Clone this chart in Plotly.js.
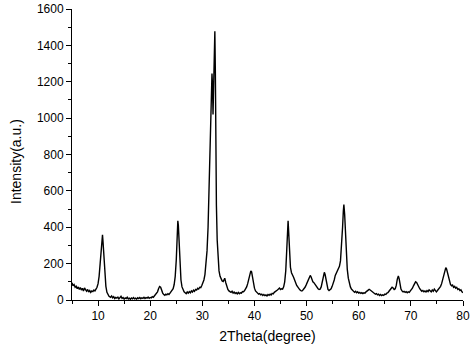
<!DOCTYPE html>
<html>
<head>
<meta charset="utf-8">
<script src="https://cdn.plot.ly/plotly-3.0.1.min.js"></script>
<style>html,body{margin:0;padding:0;background:#fff;}#chart{width:474px;height:350px;}</style>
</head>
<body>
<div id="chart"></div>
<script>
// 2Theta (degree) positions
const twoTheta = [
5.0,5.2,5.4,5.6,5.8,6.0,6.2,6.4,6.6,6.8,7.0,7.2,7.4,7.6,7.8,8.0,8.2,8.4,8.6,8.8,9.0,9.2,9.4,9.6,9.8,10.0,10.2,10.4,10.6,10.75,10.85,10.95,11.1,11.3,11.5,11.7,11.9,12.1,
12.4,12.6,12.8,13.0,13.2,13.4,13.6,13.8,14.0,14.2,14.4,14.6,14.8,15.0,15.2,15.4,15.6,15.8,16.0,16.2,16.4,16.6,16.8,17.0,17.2,17.4,17.6,17.8,18.0,18.2,18.4,18.6,18.8,19.0,19.2,19.4,19.6,19.8,20.0,20.2,20.4,20.6,20.8,21.0,21.2,21.4,21.6,21.8,22.0,22.2,22.4,22.6,22.8,23.0,23.2,23.4,23.6,23.8,24.0,24.2,24.4,24.6,24.8,25.0,25.15,25.3,25.4,25.55,25.7,25.9,26.1,26.3,26.5,26.7,26.9,27.1,27.3,27.5,27.7,27.9,28.1,28.3,28.5,28.7,28.9,29.1,29.3,29.5,29.7,29.9,30.1,30.3,30.5,30.7,30.9,31.1,31.3,31.5,31.7,31.85,31.95,32.05,32.15,32.3,32.4,32.5,32.6,32.7,32.85,33.0,33.2,33.4,33.6,33.8,34.0,34.15,34.3,34.5,34.7,34.9,35.1,35.3,35.5,35.7,35.9,36.1,36.3,36.5,36.7,36.9,37.1,37.3,37.5,37.7,37.9,38.1,38.3,38.5,38.7,38.9,39.1,39.3,39.45,39.6,39.8,40.0,40.2,40.4,40.6,40.8,41.0,41.2,41.4,41.6,41.8,42.0,42.2,42.4,42.6,42.8,43.0,43.2,43.4,43.6,43.8,44.0,44.2,44.4,44.6,44.8,45.0,45.2,45.4,45.6,45.8,46.0,46.2,46.35,46.45,46.55,46.7,46.9,47.1,47.3,47.5,47.7,47.9,48.1,48.3,48.5,48.7,48.9,49.1,49.3,49.5,49.7,49.9,50.1,50.3,50.5,50.7,50.85,51.0,51.2,51.4,51.6,51.8,52.0,52.2,52.4,52.6,52.8,53.0,53.2,53.4,53.55,53.7,53.9,54.1,54.3,54.5,54.7,54.9,55.1,55.3,55.5,55.7,55.9,56.1,56.3,56.5,56.7,56.9,57.05,57.15,57.3,57.45,57.6,57.8,58.0,58.2,58.4,58.6,58.8,59.0,59.2,59.4,59.6,59.8,60.0,60.2,60.4,60.6,60.8,61.0,61.2,61.4,61.6,61.8,62.0,62.2,62.4,62.6,62.8,63.0,63.2,63.4,63.6,63.8,64.0,64.2,64.4,64.6,64.8,65.0,65.2,65.4,65.6,65.8,66.0,66.2,66.4,66.6,66.8,67.0,67.2,67.4,67.6,67.75,67.9,68.1,68.3,68.5,68.7,68.9,69.1,69.3,69.5,69.7,69.9,70.1,70.3,70.5,70.7,70.9,71.1,71.3,71.5,71.7,71.9,72.1,72.3,72.5,72.7,72.9,73.1,73.3,73.5,73.7,73.9,74.1,74.3,74.5,74.7,74.9,75.1,75.3,75.5,75.7,75.9,76.1,76.3,76.5,76.7,76.85,77.0,77.2,77.4,77.6,77.8,78.0,78.2,78.4,78.6,78.8,79.0,79.2,79.4,79.6,79.8,80.0
];
// Intensity (a.u.) values
const intensity = [
95,78,85,70,76,62,72,58,68,55,64,50,66,52,48,58,44,52,42,50,46,55,50,60,70,90,130,200,290,345,358,320,240,140,75,42,28,20,
15,22,12,18,8,14,10,16,6,12,20,9,14,5,12,8,15,6,10,4,11,7,13,6,10,5,12,8,14,7,12,9,15,8,13,10,16,9,14,12,18,15,22,25,32,45,62,74,70,52,38,30,26,32,28,35,30,38,45,52,62,85,130,220,340,435,410,300,190,110,72,55,45,40,35,44,38,46,40,50,44,54,48,58,55,64,60,70,68,80,92,110,140,190,270,400,620,860,1100,1245,1180,1020,1150,1350,1478,1250,800,520,330,220,160,130,112,105,102,118,120,95,70,58,50,46,42,48,38,44,36,40,34,42,35,40,38,46,45,52,60,72,90,115,140,160,155,125,90,65,50,42,36,32,35,28,32,25,30,24,28,22,30,26,32,28,36,34,42,45,50,55,60,66,58,62,60,72,100,160,280,400,435,380,260,180,150,140,125,110,92,80,72,62,56,52,50,55,60,70,82,95,110,125,135,128,112,100,95,85,78,72,62,58,60,72,95,125,152,140,110,75,58,52,55,62,75,90,110,135,150,165,175,185,215,290,400,490,525,470,360,260,170,120,90,72,60,52,46,42,48,40,45,38,42,36,40,35,40,38,45,48,55,58,55,50,44,40,38,32,35,28,32,25,30,24,28,25,32,30,38,40,48,55,62,70,66,58,62,80,115,132,118,85,60,50,45,48,42,46,40,45,42,50,55,65,78,92,100,96,82,70,62,55,48,52,45,50,44,52,46,56,48,45,55,48,60,50,45,52,58,65,75,90,110,140,165,178,170,150,120,95,85,78,82,70,75,65,70,58,62,52,56,45,40
];
const xTickVals = [10,20,30,40,50,60,70,80];
const yTickVals = [0,200,400,600,800,1000,1200,1400,1600];

const fam = 'Liberation Sans, Arial, sans-serif';
Plotly.newPlot('chart', [{
  x: twoTheta, y: intensity, type: 'scatter', mode: 'lines',
  line: {color: '#000', width: 1.4}, hoverinfo: 'skip'
}], {
  width: 474, height: 350,
  margin: {l: 72, r: 11, t: 9, b: 50},
  paper_bgcolor: '#fff', plot_bgcolor: '#fff',
  showlegend: false,
  font: {family: fam, size: 12, color: '#000'},
  xaxis: {
    range: [5, 80], tickvals: xTickVals, ticktext: xTickVals.map(String),
    showline: true, linecolor: '#000', linewidth: 1, mirror: false,
    ticks: 'outside', ticklen: 5, tickwidth: 1, tickcolor: '#000',
    minor: {ticks: 'outside', ticklen: 3, tickwidth: 1, tickcolor: '#000', dtick: 5, tick0: 0, showgrid: false},
    showgrid: false, zeroline: false,
    tickfont: {family: fam, size: 12, color: '#000'},
    title: {text: '2Theta(degree)', font: {family: fam, size: 14, color: '#000'}, standoff: 8}
  },
  yaxis: {
    range: [0, 1600], tickvals: yTickVals, ticktext: yTickVals.map(String),
    showline: true, linecolor: '#000', linewidth: 1, mirror: false,
    ticks: 'outside', ticklen: 5, tickwidth: 1, tickcolor: '#000',
    minor: {ticks: 'outside', ticklen: 3, tickwidth: 1, tickcolor: '#000', dtick: 100, tick0: 0, showgrid: false},
    showgrid: false, zeroline: false,
    tickfont: {family: fam, size: 12, color: '#000'}
  },
  annotations: [{
    text: 'Intensity(a.u.)', textangle: -90, showarrow: false,
    xref: 'paper', yref: 'paper', x: (16 - 72) / 391, y: (300 - 162) / 291,
    xanchor: 'center', yanchor: 'middle',
    font: {family: fam, size: 14, color: '#000'}
  }]
}, {displayModeBar: false, staticPlot: true});
</script>
</body>
</html>
